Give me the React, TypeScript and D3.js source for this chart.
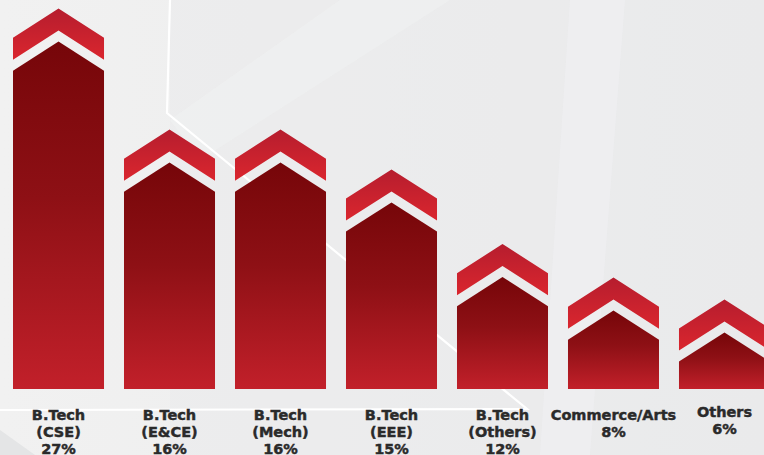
import React from "react";
import * as d3 from "d3";

const categories = ["B.Tech (CSE)", "B.Tech (E&CE)", "B.Tech (Mech)", "B.Tech (EEE)", "B.Tech (Others)", "Commerce/Arts", "Others"];
const labelLines = [
  ["B.Tech", "(CSE)", "27%"],
  ["B.Tech", "(E&CE)", "16%"],
  ["B.Tech", "(Mech)", "16%"],
  ["B.Tech", "(EEE)", "15%"],
  ["B.Tech", "(Others)", "12%"],
  ["Commerce/Arts", "8%"],
  ["Others", "6%"],
];
const percentages = [27, 16, 16, 15, 12, 8, 6];
// drawn bar heights (chart units)
const barLevels = [27, 17.6, 17.6, 14.5, 8.7, 6.1, 4.4];

const W = 764;
const H = 455;

export default function App() {
  const x = d3.scaleBand<string>().domain(categories).range([13, 770]).paddingInner(0.18).paddingOuter(0);
  const y = d3.scaleLinear().domain([0, 30]).range([389, 3]);
  const bw = x.bandwidth();
  const rise = bw * 0.32;

  const bodyPath = (i: number) => {
    const x0 = x(categories[i])!;
    const x1 = x0 + bw;
    const cx = x0 + bw / 2;
    const apex = y(barLevels[i]);
    const base = y(0);
    const p = d3.path();
    p.moveTo(x0, base);
    p.lineTo(x0, apex + rise);
    p.lineTo(cx, apex);
    p.lineTo(x1, apex + rise);
    p.lineTo(x1, base);
    p.closePath();
    return p.toString();
  };
  const chevronPath = (i: number) => {
    const x0 = x(categories[i])!;
    const x1 = x0 + bw;
    const cx = x0 + bw / 2;
    const apex = y(barLevels[i]);
    const top = apex - 33;
    const bot = apex - 11;
    const p = d3.path();
    p.moveTo(x0, top + rise);
    p.lineTo(cx, top);
    p.lineTo(x1, top + rise);
    p.lineTo(x1, bot + rise);
    p.lineTo(cx, bot);
    p.lineTo(x0, bot + rise);
    p.closePath();
    return p.toString();
  };

  return (
    <svg width={W} height={H} style={{ position: "fixed", left: 0, top: 0, display: "block" }}>
      <defs>
        <linearGradient id="bg" x1="0" y1="0" x2="1" y2="0">
          <stop offset="0" stopColor="#f1f1f1" />
          <stop offset="1" stopColor="#eaebeb" />
        </linearGradient>
        <linearGradient id="body" x1="0" y1="0" x2="0" y2="1">
          <stop offset="0" stopColor="#760609" />
          <stop offset="0.45" stopColor="#8e1015" />
          <stop offset="1" stopColor="#c2202a" />
        </linearGradient>
        <linearGradient id="chev" x1="0" y1="0" x2="0" y2="1">
          <stop offset="0" stopColor="#b61d2e" />
          <stop offset="1" stopColor="#da262e" />
        </linearGradient>
      </defs>
      <rect x={0} y={0} width={W} height={H} fill="url(#bg)" />
      <polygon points="170,0 764,0 764,455 170,455" fill="#e9eaeb" opacity={0.5} />
      <polygon points="340,0 450,0 200,160 170,120" fill="#f0f1f2" opacity={0.6} />
      <polygon points="570,0 625,0 590,455 540,455" fill="#eff0f2" opacity={0.7} />
      <polygon points="0,430 0,455 35,455" fill="#e4e5e6" />
      <polyline points="170,0 167,113 527,409 0,410" fill="none" stroke="#ffffff" strokeWidth={2.2} />
      {categories.map((c, i) => (
        <g key={c}>
          <path d={chevronPath(i)} fill="url(#chev)" />
          <path d={bodyPath(i)} fill="url(#body)" />
        </g>
      ))}
      {labelLines.map((lines, i) => {
        const cx = x(categories[i])! + bw / 2;
        const startY = i === 6 ? 417 : 420;
        return (
          <text key={i} textAnchor="middle" fontFamily="'DejaVu Sans', sans-serif" fontWeight="bold" fontSize={14.5}
            fill="#2a2a2a" stroke="#2a2a2a" strokeWidth={0.45}>
            {lines.map((l, j) => (
              <tspan key={j} x={cx} y={startY + j * 17}>{l}</tspan>
            ))}
          </text>
        );
      })}
    </svg>
  );
}
